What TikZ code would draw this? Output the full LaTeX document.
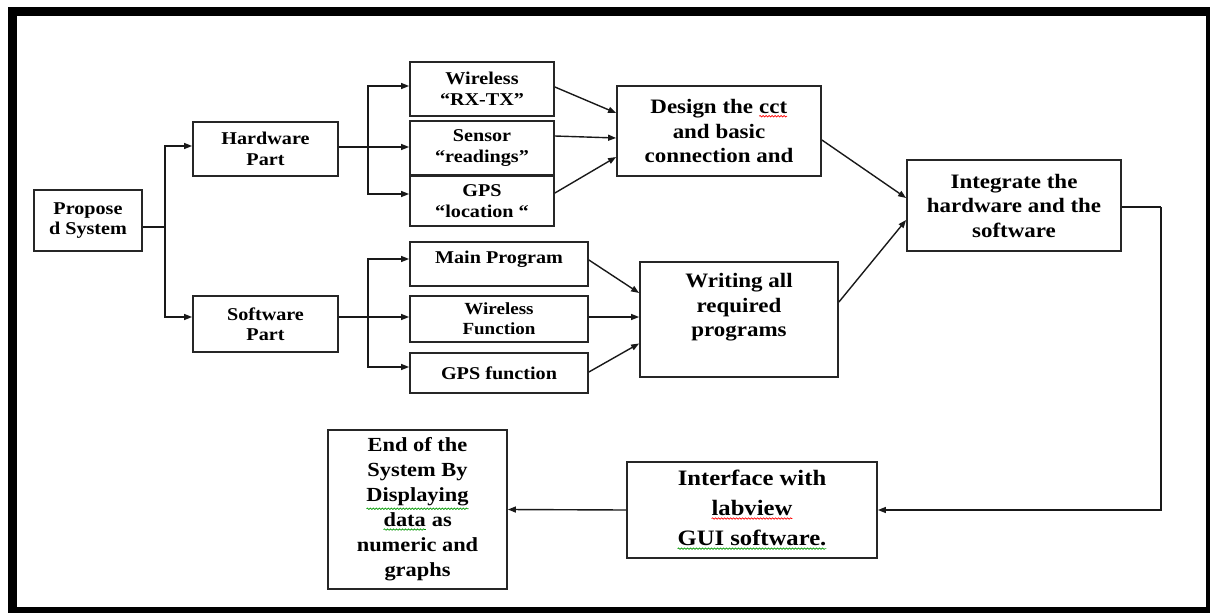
\documentclass[tikz,border=0pt]{standalone}
\usepackage{fontspec}
\setmainfont[FakeStretch=1.12]{Liberation Serif}
\usetikzlibrary{arrows.meta,calc,decorations.pathmorphing}
\newcommand{\sqg}[2]{\tikz[baseline=(q.base)]{\node[shape=rectangle,draw=none,fill=none,inner sep=0pt,outer sep=0pt,minimum width=0pt,minimum height=0pt,anchor=center](q){#2};\draw[#1,line width=0.7pt,decorate,decoration={snake,amplitude=0.7pt,segment length=3pt}]([yshift=-2.5pt]q.south west)--([yshift=-2.5pt]q.south east);}}
\begin{document}
\begin{tikzpicture}[x=1pt,y=-1pt,
  box/.style={draw=black!85,line width=1.8pt,align=center,inner sep=2pt},
  sm/.style={font=\fontsize{18}{20.5}\selectfont\bfseries},
  md/.style={font=\fontsize{20.5}{24.5}\selectfont\bfseries},
  arr/.style={draw=black!90,line width=1.4pt,-{Triangle[length=8pt,width=6pt]}},
  ln/.style={draw=black!90,line width=1.4pt}]
\useasboundingbox (0,0) rectangle (1210,613);
\draw[line width=9pt] (12.5,11.5) rectangle (1210.5,611.5);
% nodes
\node[box,sm,minimum width=108pt,minimum height=61pt] (prop) at (88,220.5) {Propose\\d System};
\node[box,sm,minimum width=145pt,minimum height=54pt] (hw) at (265.5,149) {Hardware\\Part};
\node[box,sm,minimum width=145pt,minimum height=56pt] (sw) at (265.5,324) {Software\\Part};
\node[box,sm,minimum width=144pt,minimum height=54pt] (wl) at (482,89) {Wireless\\“RX-TX”};
\node[box,sm,minimum width=144pt,minimum height=54pt] (sn) at (482,148) {Sensor\\“readings”};
\node[box,sm,minimum width=144pt,minimum height=50pt] (gl) at (482,201) {GPS\\“location “};
\node[box,minimum width=178pt,minimum height=44pt] (mp) at (499,264) {};
\node[sm,anchor=base] (mpt) at (499,263) {Main Program};
\node[box,font=\fontsize{17}{20}\selectfont\bfseries,minimum width=178pt,minimum height=46pt] (wf) at (499,319) {Wireless\\Function};
\node[box,sm,minimum width=178pt,minimum height=40pt] (gf) at (499,373) {GPS function};
\node[box,md,minimum width=204pt,minimum height=90pt] (ds) at (719,131) {Design the \sqg{red}{cct}\\and basic\\connection and};
\node[box,minimum width=198pt,minimum height=115pt] (wr) at (739,319.5) {};
\node[md,align=center,anchor=north] (wrt) at (739,270) {Writing all\\required\\programs};
\node[box,md,minimum width=214pt,minimum height=91pt] (it) at (1014,205.5) {Integrate the\\hardware and the\\software};
\node[box,font=\fontsize{22}{30}\selectfont\bfseries,minimum width=250pt,minimum height=96pt] (if) at (752,510) {Interface with\\\sqg{red}{labview}\\\sqg{green!60!black}{GUI software.}};
\node[box,font=\fontsize{20}{25}\selectfont\bfseries,minimum width=179pt,minimum height=159pt] (en) at (417.5,509.5) {End of the\\System By\\\sqg{green!60!black}{Displaying}\\\sqg{green!60!black}{data} as\\numeric and\\graphs};
% branch coordinates
\coordinate (b1) at (165,227);
\coordinate (b2) at (368,147);
\coordinate (b3) at (368,317);
\coordinate (c1) at (1161,207);
% propose branch
\draw[ln] ($(prop.east)+(0,6.5)$) -- (b1);
\draw[arr] (b1) |- ($(hw.west)+(0,-3)$);
\draw[arr] (b1) |- ($(sw.west)+(0,-7)$);
% hardware branch
\draw[ln] ($(hw.east)+(0,-2)$) -- (b2);
\draw[arr] (b2) |- ($(wl.west)+(0,-3)$);
\draw[arr] (b2) -- ($(sn.west)+(0,-1)$);
\draw[arr] (b2) |- ($(gl.west)+(0,-7)$);
% software branch
\draw[ln] ($(sw.east)+(0,-7)$) -- (b3);
\draw[arr] (b3) |- ($(mp.west)+(0,-5)$);
\draw[arr] (b3) -- ($(wf.west)+(0,-2)$);
\draw[arr] (b3) |- ($(gf.west)+(0,-6)$);
% into design
\draw[arr] ($(wl.east)+(0,-2)$) -- ($(ds.west)+(0,-18)$);
\draw[arr] ($(sn.east)+(0,-12)$) -- ($(ds.west)+(0,7)$);
\draw[arr] ($(gl.east)+(0,-8)$) -- ($(ds.west)+(0,26)$);
% into writing
\draw[arr] ($(mp.east)+(0,-4)$) -- ($(wr.west)+(0,-26.5)$);
\draw[arr] ($(wf.east)+(0,-2)$) -- ($(wr.west)+(0,-2.5)$);
\draw[arr] ($(gf.east)+(0,-1)$) -- ($(wr.west)+(0,24)$);
% into integrate
\draw[arr] ($(ds.east)+(0,9)$) -- ($(it.west)+(0,-7.5)$);
\draw[arr] ($(wr.east)+(0,-17.5)$) -- ($(it.west)+(0,14.5)$);
% integrate to interface to end
\draw[ln] ($(it.east)+(0,1.5)$) -- (c1);
\draw[arr] (c1) |- (if.east);
\draw[arr] (if.west) -- (en.east);
\end{tikzpicture}
\end{document}
